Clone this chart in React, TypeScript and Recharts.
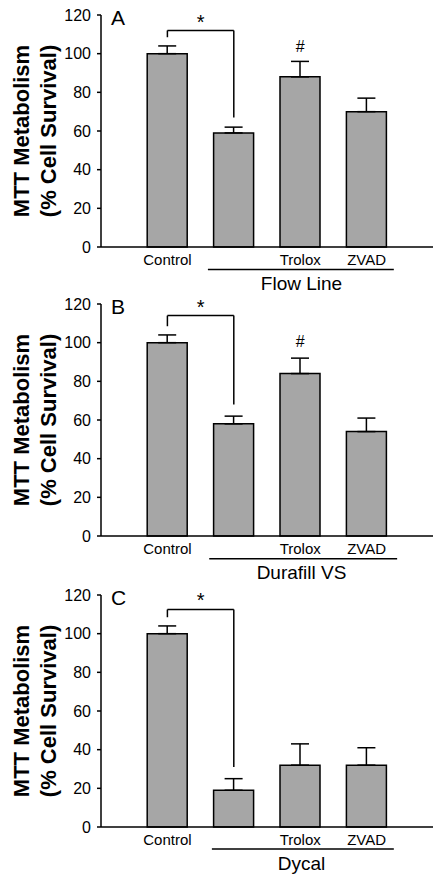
import React from "react";
import {
  Bar,
  BarChart,
  ErrorBar,
  ReferenceDot,
  ReferenceLine,
  XAxis,
  YAxis,
} from "recharts";

// bar positions on the x scale and their labels
const positions = [1, 2, 3, 4];
const categories = ["Control", "", "Trolox", "ZVAD"];
const yTicks = [0, 20, 40, 60, 80, 100, 120];

const flowLineMeans = [100, 59, 88, 70];
const flowLineErrors = [4, 3, 8, 7];
const durafillMeans = [100, 58, 84, 54];
const durafillErrors = [4, 4, 8, 7];
const dycalMeans = [100, 19, 32, 32];
const dycalErrors = [4, 6, 11, 9];

const FONT = "'Liberation Sans', Arial, Helvetica, sans-serif";
const BAR_FILL = "#a6a6a6";

type PanelProps = {
  letter: string;
  material: string;
  means: number[];
  errors: number[];
  bracketTop: number;
  bracketRight: number;
  starY: number;
  hashY?: number;
  underline: [number, number, number];
  top: number;
};

function buildRows(means: number[], errors: number[]) {
  return positions.map((x, i) => ({
    x,
    mean: means[i],
    err: [0, errors[i]],
  }));
}

function renderYLabel(props: any) {
  const vb = props.viewBox || { x: 0, y: 15, width: 101, height: 232 };
  const cy = vb.y + vb.height / 2;
  return (
    <g>
      <text
        x={28.5}
        y={cy}
        transform={`rotate(-90 28.5 ${cy})`}
        textAnchor="middle"
        fontSize={22}
        fontWeight="bold"
        fontFamily={FONT}
        fill="#000"
      >
        MTT Metabolism
      </text>
      <text
        x={55.5}
        y={cy}
        transform={`rotate(-90 55.5 ${cy})`}
        textAnchor="middle"
        fontSize={22}
        fontWeight="bold"
        fontFamily={FONT}
        fill="#000"
      >
        (% Cell Survival)
      </text>
    </g>
  );
}

function textShape(label: string, size: number, anchor: string, dx = 0, dy = 0) {
  return (p: any) => (
    <text
      x={p.cx + dx}
      y={p.cy + dy}
      textAnchor={anchor}
      fontSize={size}
      fontFamily={FONT}
      fill="#000"
    >
      {label}
    </text>
  );
}

function Panel({
  letter,
  material,
  means,
  errors,
  bracketTop,
  bracketRight,
  starY,
  hashY,
  underline,
  top,
}: PanelProps) {
  const rows = buildRows(means, errors);
  const line = { stroke: "#000", strokeWidth: 1.5 };
  return (
    <div style={{ position: "absolute", left: 0, top }}>
      <BarChart
        width={446}
        height={300}
        data={rows}
        margin={{ top: 15, right: 13, left: 0, bottom: 23 }}
      >
        <XAxis
          dataKey="x"
          type="number"
          domain={[0, 5]}
          ticks={positions}
          tickFormatter={(v) => categories[positions.indexOf(v)] ?? ""}
          tickLine={false}
          tickSize={0}
          tickMargin={7}
          height={30}
          axisLine={{ stroke: "#000", strokeWidth: 1.5 }}
          tick={{ fill: "#000", fontSize: 15, fontFamily: FONT }}
          allowDataOverflow
        />
        <YAxis
          domain={[0, 120]}
          ticks={yTicks}
          width={101}
          tickSize={4}
          tickMargin={6}
          axisLine={{ stroke: "#000", strokeWidth: 1.5 }}
          tickLine={{ stroke: "#000", strokeWidth: 1.5 }}
          tick={{ fill: "#000", fontSize: 16, fontFamily: FONT }}
          label={renderYLabel}
        />
        <Bar
          dataKey="mean"
          barSize={40}
          fill={BAR_FILL}
          stroke="#000"
          strokeWidth={1.5}
          isAnimationActive={false}
        >
          <ErrorBar
            dataKey="err"
            width={9}
            stroke="#000"
            strokeWidth={1.5}
            direction="y"
            isAnimationActive={false}
          />
        </Bar>
        {/* significance bracket */}
        <ReferenceLine
          segment={[
            { x: 1, y: 108.5 },
            { x: 1, y: bracketTop },
          ]}
          {...line}
          ifOverflow="visible"
        />
        <ReferenceLine
          segment={[
            { x: 1, y: bracketTop },
            { x: 2, y: bracketTop },
          ]}
          {...line}
          ifOverflow="visible"
        />
        <ReferenceLine
          segment={[
            { x: 2, y: bracketTop },
            { x: 2, y: bracketRight },
          ]}
          {...line}
          ifOverflow="visible"
        />
        <ReferenceDot
          x={1.5}
          y={starY}
          r={0}
          ifOverflow="visible"
          shape={textShape("*", 20, "middle")}
        />
        {hashY !== undefined ? (
          <ReferenceDot
            x={3}
            y={hashY}
            r={0}
            ifOverflow="visible"
            shape={textShape("#", 16, "middle")}
          />
        ) : null}
        <ReferenceDot
          x={0}
          y={120}
          r={0}
          ifOverflow="visible"
          shape={textShape(letter, 21, "start", 10, 10)}
        />
        {/* group underline and material name */}
        <ReferenceLine
          segment={[
            { x: underline[0], y: underline[2] },
            { x: underline[1], y: underline[2] },
          ]}
          {...line}
          ifOverflow="visible"
        />
        <ReferenceDot
          x={3.02}
          y={-22}
          r={0}
          ifOverflow="visible"
          shape={textShape(material, 19, "middle")}
        />
      </BarChart>
    </div>
  );
}

export default function App() {
  return (
    <div
      style={{
        position: "absolute",
        left: 0,
        top: 0,
        width: 446,
        height: 884,
        background: "#fff",
        fontFamily: FONT,
      }}
    >
      <Panel
        letter="A"
        material="Flow Line"
        means={flowLineMeans}
        errors={flowLineErrors}
        bracketTop={112}
        bracketRight={67}
        starY={113}
        hashY={101}
        underline={[1.61, 4.41, -11.7]}
        top={0}
      />
      <Panel
        letter="B"
        material="Durafill VS"
        means={durafillMeans}
        errors={durafillErrors}
        bracketTop={114}
        bracketRight={68}
        starY={115}
        hashY={98}
        underline={[1.63, 4.46, -11.8]}
        top={289}
      />
      <Panel
        letter="C"
        material="Dycal"
        means={dycalMeans}
        errors={dycalErrors}
        bracketTop={112.5}
        bracketRight={31}
        starY={114}
        underline={[1.67, 4.41, -11.4]}
        top={580}
      />
    </div>
  );
}
